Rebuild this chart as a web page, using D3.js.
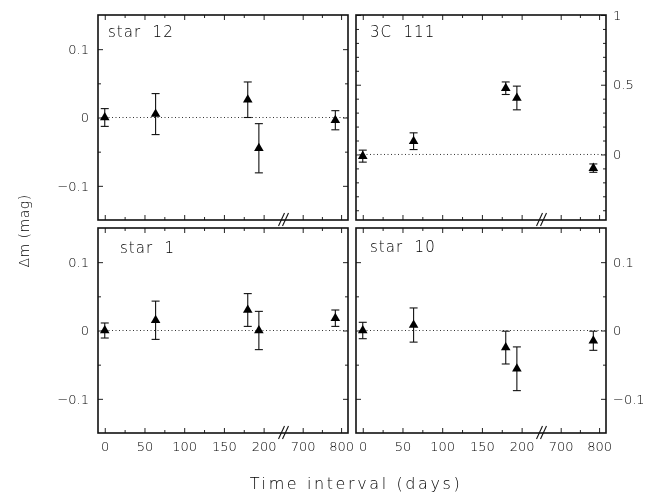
<!DOCTYPE html>
<meta charset="utf-8">
<style>
  body { margin: 0; background: #fff; }
  svg { will-change: transform; }
  text { font-family: "DejaVu Sans", sans-serif; fill: #000; font-weight: 200; }
</style>
<body>
<div id="chart"></div>
<script src="https://d3js.org/d3.v7.min.js"></script>
<script>

// Data
var days = [0, 64, 180, 194, 785];

var star12 = [0.000, 0.005, 0.026, -0.045, -0.004];
var star12Err = [0.013, 0.030, 0.026, 0.036, 0.014];

var c111 = [-0.012, 0.095, 0.475, 0.405, -0.098];
var c111Err = [0.043, 0.060, 0.045, 0.085, 0.030];

var star1 = [0.000, 0.015, 0.030, 0.000, 0.018];
var star1Err = [0.011, 0.028, 0.024, 0.028, 0.012];

var star10 = [0.000, 0.008, -0.025, -0.056, -0.015];
var star10Err = [0.012, 0.025, 0.024, 0.032, 0.014];

var xMajor = [0, 50, 100, 150, 200, 700, 800];
var xMinor = [25, 75, 125, 175, 750];
var starTicks = [-0.1, 0, 0.1];
var starMinor = [-0.05, 0.05];
var qsoTicks = [0, 0.5, 1];
var qsoMinor = [-0.4, -0.3, -0.2, -0.1, 0.1, 0.2, 0.3, 0.4, 0.6, 0.7, 0.8, 0.9];

var panels = [
  {name: "star  12", vals: star12, errs: star12Err, col: 0, row: 0, qso: false, lx: 10, ly: 22},
  {name: "3C  111", vals: c111, errs: c111Err, col: 1, row: 0, qso: true, lx: 14, ly: 22},
  {name: "star  1", vals: star1, errs: star1Err, col: 0, row: 1, qso: false, lx: 22, ly: 25},
  {name: "star  10", vals: star10, errs: star10Err, col: 1, row: 1, qso: false, lx: 14, ly: 24}
];

// Layout
var W = 661, H = 497;
var pw = 250, ph = 205;
var colX = [98, 356], rowY = [15, 228];

var svg = d3.select("#chart").append("svg")
    .attr("width", W)
    .attr("height", H);

// broken time axis: 0-225 then 650-818
var x = d3.scaleLinear()
    .domain([-8.5, 225, 650, 818])
    .range([0, 185.5, 185.5, pw]);

panels.forEach(function(p) {
  var g = svg.append("g")
      .attr("transform", "translate(" + colX[p.col] + "," + rowY[p.row] + ")");

  var y = d3.scaleLinear()
      .domain(p.qso ? [-0.47, 1] : [-0.15, 0.15])
      .range([ph, 0]);
  var major = p.qso ? qsoTicks : starTicks;
  var minor = p.qso ? qsoMinor : starMinor;

  // axes: ticks point inward on all four sides
  g.append("g")
      .attr("transform", "translate(0," + ph + ")")
      .call(d3.axisBottom(x).tickValues(xMajor).tickSize(-5).tickPadding(9)
        .tickFormat(p.row == 1 ? d3.format("d") : ""));
  g.append("g").attr("transform", "translate(0," + ph + ")")
      .call(d3.axisBottom(x).tickValues(xMinor).tickSize(-3).tickFormat(""));
  g.append("g")
      .call(d3.axisTop(x).tickValues(xMajor).tickSize(-5).tickFormat(""));
  g.append("g")
      .call(d3.axisTop(x).tickValues(xMinor).tickSize(-3).tickFormat(""));

  var fmt = function(d) { return d == 0 ? "0" : d3.format("")(d).replace("-", "\u2212"); };
  g.append("g")
      .call(d3.axisLeft(y).tickValues(major).tickSize(-5).tickPadding(9)
        .tickFormat(p.col == 0 ? fmt : ""));
  g.append("g")
      .call(d3.axisLeft(y).tickValues(minor).tickSize(-3).tickFormat(""));
  g.append("g").attr("transform", "translate(" + pw + ",0)")
      .call(d3.axisRight(y).tickValues(major).tickSize(-5).tickPadding(7)
        .tickFormat(p.col == 1 ? fmt : ""));
  g.append("g").attr("transform", "translate(" + pw + ",0)")
      .call(d3.axisRight(y).tickValues(minor).tickSize(-3).tickFormat(""));

  g.selectAll(".domain").remove();
  g.selectAll(".tick line").attr("stroke", "#222").attr("stroke-width", 1);
  g.selectAll(".tick text").style("font-size", "13px")
      .style("font-family", "'DejaVu Sans', sans-serif").attr("fill", "#000");

  // frame
  g.append("rect")
      .attr("width", pw).attr("height", ph)
      .attr("fill", "none")
      .attr("stroke", "#111")
      .attr("stroke-width", 1.6);

  // axis break marks
  var bx = x(225);
  [0, 4].forEach(function(o) {
    g.append("line")
        .attr("x1", bx - 5 + o).attr("y1", ph + 6)
        .attr("x2", bx + 1 + o).attr("y2", ph - 7)
        .attr("stroke", "#111").attr("stroke-width", 1.1);
  });

  // dotted zero line
  g.append("line")
      .attr("x1", 0).attr("x2", pw)
      .attr("y1", y(0)).attr("y2", y(0))
      .attr("stroke", "#333")
      .attr("stroke-width", 1)
      .attr("stroke-dasharray", "1,2.5");

  var pts = days.map(function(d, i) { return {t: d, v: p.vals[i], e: p.errs[i]}; });

  // error bars
  var eb = g.selectAll(".err").data(pts).enter().append("g").attr("class", "err");
  eb.append("line")
      .attr("x1", function(d) { return x(d.t); })
      .attr("x2", function(d) { return x(d.t); })
      .attr("y1", function(d) { return y(d.v + d.e); })
      .attr("y2", function(d) { return y(d.v - d.e); });
  eb.append("line")
      .attr("x1", function(d) { return x(d.t) - 4; })
      .attr("x2", function(d) { return x(d.t) + 4; })
      .attr("y1", function(d) { return y(d.v + d.e); })
      .attr("y2", function(d) { return y(d.v + d.e); });
  eb.append("line")
      .attr("x1", function(d) { return x(d.t) - 4; })
      .attr("x2", function(d) { return x(d.t) + 4; })
      .attr("y1", function(d) { return y(d.v - d.e); })
      .attr("y2", function(d) { return y(d.v - d.e); });
  eb.selectAll("line").attr("stroke", "#111").attr("stroke-width", 1.1);

  // triangles
  g.selectAll(".pt").data(pts).enter().append("path")
      .attr("class", "pt")
      .attr("d", d3.symbol().type(d3.symbolTriangle).size(40))
      .attr("transform", function(d) { return "translate(" + x(d.t) + "," + y(d.v) + ")"; })
      .attr("fill", "#000");

  // panel label
  g.append("text")
      .attr("x", p.lx).attr("y", p.ly)
      .style("font-size", "15px")
      .style("letter-spacing", "1px")
      .style("white-space", "pre")
      .text(p.name);
});

// axis titles
svg.append("text")
    .attr("x", 356).attr("y", 489)
    .attr("text-anchor", "middle")
    .style("font-size", "16px")
    .style("letter-spacing", "2.6px")
    .text("Time interval (days)");

svg.append("text")
    .attr("transform", "translate(29,231) rotate(-90)")
    .attr("text-anchor", "middle")
    .style("font-size", "14px")
    .style("letter-spacing", "0.5px")
    .text("\u0394m (mag)");

</script>
</body>
